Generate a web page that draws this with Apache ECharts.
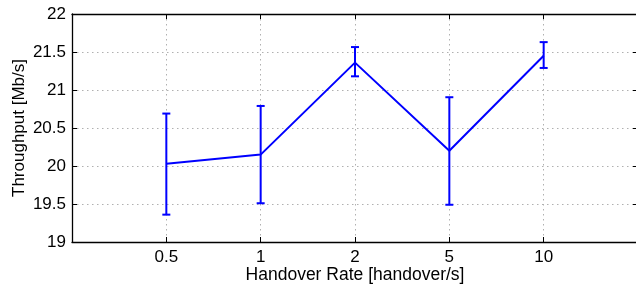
<!DOCTYPE html>
<html>
<head>
<meta charset="utf-8">
<script src="https://cdn.jsdelivr.net/npm/echarts@6/dist/echarts.min.js"></script>
<style>html,body{margin:0;padding:0;background:#fff;}#c{width:636px;height:284px;}</style>
</head>
<body>
<div id="c"></div>
<script>
var categories = ['0.5', '1', '2', '5', '10'];
var meanValues = [20.03, 20.15, 21.36, 20.20, 21.45];
var lowerValues = [19.36, 19.51, 21.18, 19.49, 21.29];
var upperValues = [20.69, 20.79, 21.565, 20.905, 21.63];
var yTicks = [19, 19.5, 20, 20.5, 21, 21.5, 22];

var FONT = 'Liberation Sans, Arial, Helvetica, sans-serif';
var BLUE = '#0000ff';

var lineData = meanValues.map(function (v, i) { return [i + 1, v]; });
var errData = meanValues.map(function (v, i) { return [i + 1, lowerValues[i], upperValues[i]]; });

var chart = echarts.init(document.getElementById('c'), null, { renderer: 'canvas' });
chart.setOption({
  animation: false,
  backgroundColor: '#fff',
  grid: { left: 72, top: 14, right: -2, bottom: 42, containLabel: false, outerBoundsMode: 'none' },
  xAxis: [{
    type: 'value', min: 0, max: 6, interval: 1, position: 'bottom',
    name: 'Handover Rate [handover/s]', nameLocation: 'middle', nameGap: 24, nameMoveOverlap: false,
    nameTextStyle: { fontFamily: FONT, fontSize: 17.5, color: '#000' },
    axisLine: { show: true, onZero: false, lineStyle: { color: '#000', width: 1.3 } },
    axisTick: { show: true, inside: true, length: 5, lineStyle: { color: '#000' } },
    axisLabel: {
      fontFamily: FONT, fontSize: 17, color: '#000', margin: 7,
      formatter: function (v) { return categories[v - 1] !== undefined ? categories[v - 1] : ''; }
    },
    splitLine: { show: true, lineStyle: { color: '#b0b0b0', type: [1.5, 3.5], width: 1 } }
  }, {
    type: 'value', min: 0, max: 6, interval: 1, position: 'top',
    axisLine: { show: true, onZero: false, lineStyle: { color: '#000', width: 1.3 } },
    axisTick: { show: true, inside: true, length: 5, lineStyle: { color: '#000' } },
    axisLabel: { show: false }, splitLine: { show: false }
  }],
  yAxis: [{
    type: 'value', min: yTicks[0], max: yTicks[yTicks.length - 1], interval: 0.5, position: 'left',
    name: 'Throughput [Mb/s]', nameLocation: 'middle', nameGap: 44, nameMoveOverlap: false,
    nameTextStyle: { fontFamily: FONT, fontSize: 17, color: '#000' },
    axisLine: { show: true, onZero: false, lineStyle: { color: '#000', width: 1.3 } },
    axisTick: { show: true, inside: true, length: 5, lineStyle: { color: '#000' } },
    axisLabel: { fontFamily: FONT, fontSize: 17, color: '#000', margin: 6 },
    splitLine: { show: true, lineStyle: { color: '#b0b0b0', type: [1.5, 3.5], width: 1 } }
  }, {
    type: 'value', min: yTicks[0], max: yTicks[yTicks.length - 1], interval: 0.5, position: 'right',
    axisLine: { show: true, onZero: false, lineStyle: { color: '#000', width: 1.3 } },
    axisTick: { show: true, inside: true, length: 5, lineStyle: { color: '#000' } },
    axisLabel: { show: false }, splitLine: { show: false }
  }],
  series: [{
    type: 'custom',
    xAxisIndex: 0, yAxisIndex: 0,
    data: errData,
    z: 3,
    renderItem: function (params, api) {
      var x = api.value(0);
      var lo = api.coord([x, api.value(1)]);
      var hi = api.coord([x, api.value(2)]);
      var hw = 4;
      var style = { stroke: BLUE, lineWidth: 2, fill: null };
      return {
        type: 'group',
        children: [
          { type: 'line', shape: { x1: lo[0], y1: lo[1], x2: hi[0], y2: hi[1] }, style: style },
          { type: 'line', shape: { x1: lo[0] - hw, y1: lo[1], x2: lo[0] + hw, y2: lo[1] }, style: style },
          { type: 'line', shape: { x1: hi[0] - hw, y1: hi[1], x2: hi[0] + hw, y2: hi[1] }, style: style }
        ]
      };
    }
  }, {
    type: 'line',
    xAxisIndex: 0, yAxisIndex: 0,
    data: lineData,
    symbol: 'none',
    z: 4,
    lineStyle: { color: BLUE, width: 2 }
  }]
});
</script>
</body>
</html>
